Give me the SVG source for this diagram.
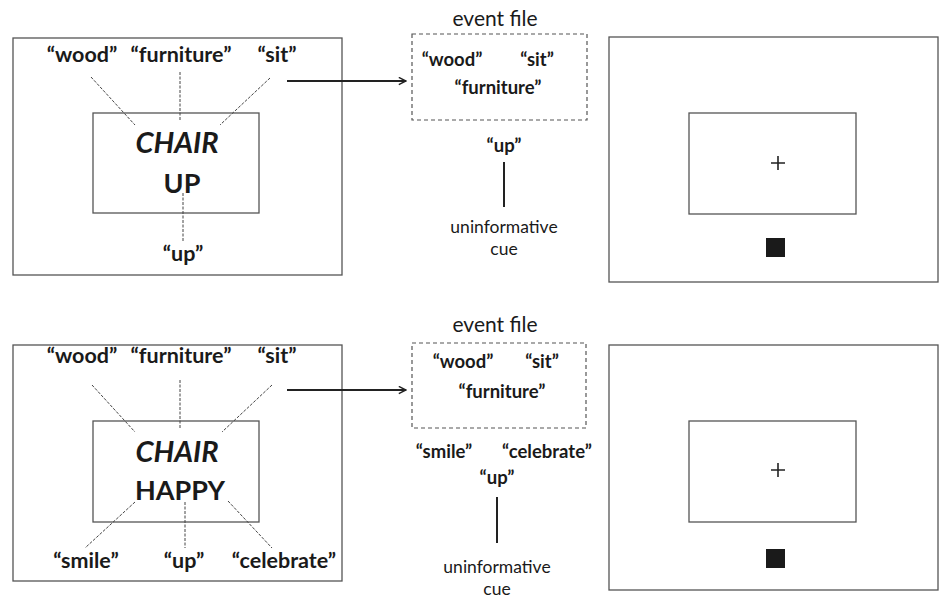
<svg xmlns="http://www.w3.org/2000/svg" width="940" height="601" viewBox="0 0 940 601">
<style>
text{font-family:Lato,"Open Sans","Liberation Sans",sans-serif;fill:#1a1a1a;text-anchor:middle}
.lbl{font-size:21.5px;font-weight:bold}
.ef{font-size:18.5px;font-weight:bold}
.title{font-size:21px}
.cue{font-size:17.5px}
.big{font-size:27px;font-weight:bold}
.it{font-style:italic;font-size:29px}
.box{fill:none;stroke:#555;stroke-width:1.3}
.dash{fill:none;stroke:#555;stroke-width:1.2;stroke-dasharray:4 3}
.dot{stroke:#444;stroke-width:1;stroke-dasharray:3 1.5}
.solid{stroke:#222;stroke-width:2}
.arrow{stroke:#222;stroke-width:2;fill:none}
</style>
<defs>
<marker id="ah" viewBox="0 0 10 10" refX="9" refY="5" markerWidth="9" markerHeight="9" markerUnits="userSpaceOnUse" orient="auto">
<path d="M1,1 L9,5 L1,9" fill="none" stroke="#222" stroke-width="1.6"/>
</marker>
</defs>
<rect width="940" height="601" fill="#fff"/>

<g id="top-display">
<rect class="box" x="13" y="38" width="329" height="237"/>
<rect class="box" x="93" y="113" width="166" height="100"/>
<text class="lbl" x="82" y="62">“wood”</text>
<text class="lbl" x="181" y="62">“furniture”</text>
<text class="lbl" x="277" y="62">“sit”</text>
<text class="big it" x="177" y="153">CHAIR</text>
<text class="big" x="182" y="193">UP</text>
<text class="lbl" x="183" y="261">“up”</text>
</g>

<g id="top-eventfile">
<text class="title" x="495" y="26">event file</text>
<rect class="dash" x="412" y="34" width="175" height="86"/>
<text class="ef" x="452" y="66">“wood”</text>
<text class="ef" x="537" y="66">“sit”</text>
<text class="ef" x="498" y="94">“furniture”</text>
<text class="ef" x="504" y="152">“up”</text>
<text class="cue" x="504" y="233">uninformative</text>
<text class="cue" x="504" y="255">cue</text>
</g>

<g id="top-probe">
<rect class="box" x="609" y="37" width="329" height="245"/>
<rect class="box" x="689" y="113" width="167" height="101"/>
<path d="M771,163 H785 M778,156 V170" stroke="#222" stroke-width="1.6"/>
<rect x="766" y="238" width="19" height="19" fill="#1a1a1a"/>
</g>

<g id="bottom-display">
<rect class="box" x="13" y="345" width="329" height="236"/>
<rect class="box" x="93" y="421" width="166" height="101"/>
<text class="lbl" x="82" y="363">“wood”</text>
<text class="lbl" x="181" y="363">“furniture”</text>
<text class="lbl" x="277" y="363">“sit”</text>
<text class="big it" x="177" y="462">CHAIR</text>
<text class="big" x="180" y="500">HAPPY</text>
<text class="lbl" x="86" y="568">“smile”</text>
<text class="lbl" x="184" y="568">“up”</text>
<text class="lbl" x="284" y="568">“celebrate”</text>
</g>

<g id="bottom-eventfile">
<text class="title" x="495" y="332">event file</text>
<rect class="dash" x="412" y="343" width="174" height="85"/>
<text class="ef" x="463" y="368">“wood”</text>
<text class="ef" x="542" y="368">“sit”</text>
<text class="ef" x="502" y="398">“furniture”</text>
<text class="ef" x="444" y="458">“smile”</text>
<text class="ef" x="547" y="458">“celebrate”</text>
<text class="ef" x="497" y="484">“up”</text>
<text class="cue" x="497" y="573">uninformative</text>
<text class="cue" x="497" y="595">cue</text>
</g>

<g id="bottom-probe">
<rect class="box" x="609" y="345" width="329" height="245"/>
<rect class="box" x="689" y="421" width="167" height="101"/>
<path d="M771,470 H785 M778,463 V477" stroke="#222" stroke-width="1.6"/>
<rect x="766" y="549" width="19" height="19" fill="#1a1a1a"/>
</g>

<g id="connectors">
<line class="dot" x1="91" y1="77" x2="135" y2="125"/>
<line class="dot" x1="180" y1="72" x2="180" y2="120"/>
<line class="dot" x1="270" y1="78" x2="220" y2="125"/>
<line class="dot" x1="183" y1="193" x2="183" y2="242"/>
<line class="arrow" x1="287" y1="81" x2="406" y2="81" marker-end="url(#ah)"/>
<line class="solid" x1="504" y1="162" x2="504" y2="207"/>

<line class="dot" x1="92" y1="385" x2="135" y2="432"/>
<line class="dot" x1="180" y1="380" x2="180" y2="428"/>
<line class="dot" x1="272" y1="385" x2="222" y2="432"/>
<line class="dot" x1="135" y1="502" x2="85" y2="548"/>
<line class="dot" x1="185" y1="502" x2="185" y2="548"/>
<line class="dot" x1="228" y1="501" x2="272" y2="548"/>
<line class="arrow" x1="287" y1="390" x2="406" y2="390" marker-end="url(#ah)"/>
<line class="solid" x1="497" y1="497" x2="497" y2="543"/>
</g>
</svg>
